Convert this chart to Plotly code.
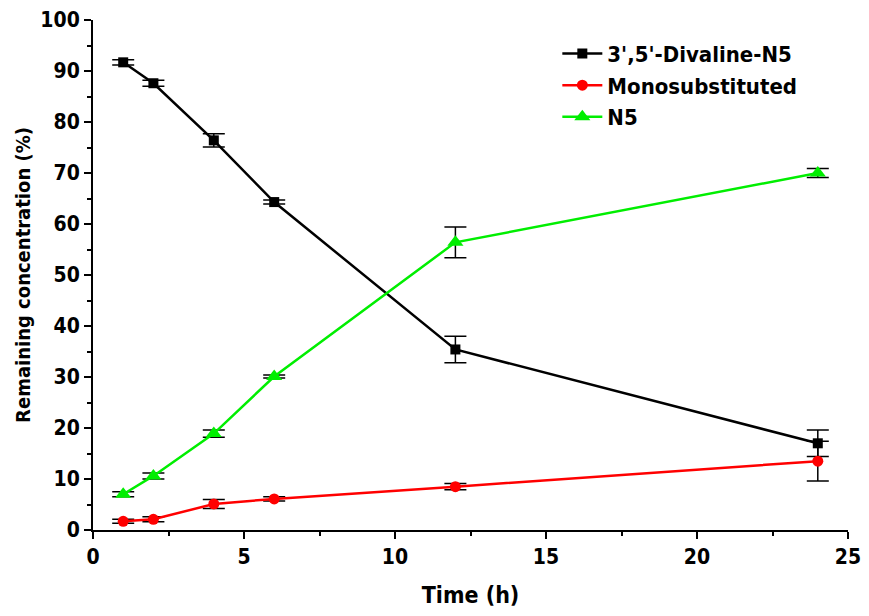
import plotly.graph_objects as go

time_h = [1, 2, 4, 6, 12, 24]
divaline = [91.7, 87.6, 76.4, 64.3, 35.4, 17.0]
divaline_err = [0.5, 0.6, 1.3, 0.4, 2.6, 2.6]
mono = [1.7, 2.1, 5.1, 6.1, 8.5, 13.5]
mono_err = [0.4, 0.5, 0.9, 0.4, 0.6, 3.9]
n5 = [7.0, 10.6, 18.9, 30.1, 56.4, 70.0]
n5_err = [0.5, 0.6, 0.7, 0.3, 3.0, 0.9]

FONT = "DejaVu Sans Condensed, Liberation Sans Narrow, Arial"

fig = go.Figure()

def add(name, y, err, color, symbol, size):
    fig.add_trace(go.Scatter(
        x=time_h, y=y, name="<b>" + name + "</b>", mode="lines+markers",
        line=dict(color=color, width=2.5),
        marker=dict(symbol=symbol, size=size, color=color),
        error_y=dict(type="data", array=err, visible=True, color="black", thickness=1.5, width=11),
    ))

add("3',5'-Divaline-N5", divaline, divaline_err, "black", "square", 10)
add("Monosubstituted", mono, mono_err, "red", "circle", 11)
add("N5", n5, n5_err, "#00ee00", "triangle-up", 14)

axis_common = dict(
    showline=True, linecolor="black", linewidth=2, mirror=False,
    ticks="outside", ticklen=7, tickwidth=2, tickcolor="black",
    showgrid=False, zeroline=False,
    tickfont=dict(family=FONT, size=21, color="black"),
    tickprefix="<b>", ticksuffix="</b>",
)

fig.update_xaxes(range=[0, 25], dtick=5,
                 title=dict(text="<b>Time (h)</b>", font=dict(family=FONT, size=23, color="black"), standoff=20),
                 minor=dict(ticks="outside", ticklen=4, tickwidth=2, tickcolor="black", dtick=2.5),
                 **axis_common)
fig.update_yaxes(range=[0, 100], dtick=10,
                 title=dict(text="<b>Remaining concentration (%)</b>", font=dict(family=FONT, size=20, color="black"), standoff=4),
                 minor=dict(ticks="outside", ticklen=4, tickwidth=2, tickcolor="black", dtick=5),
                 **axis_common)

# page body has an 8px default margin; compensate so the plot area lands where the reference has it
fig.update_layout(
    width=861, height=600,
    margin=dict(l=85, r=21, t=12, b=78, autoexpand=False),
    plot_bgcolor="white", paper_bgcolor="white",
    legend=dict(x=0.615, y=0.975, xanchor="left", yanchor="top",
                font=dict(family=FONT, size=22, color="black"),
                bgcolor="rgba(0,0,0,0)", itemwidth=40, tracegroupgap=0),
)

fig.write_html("out.html")
